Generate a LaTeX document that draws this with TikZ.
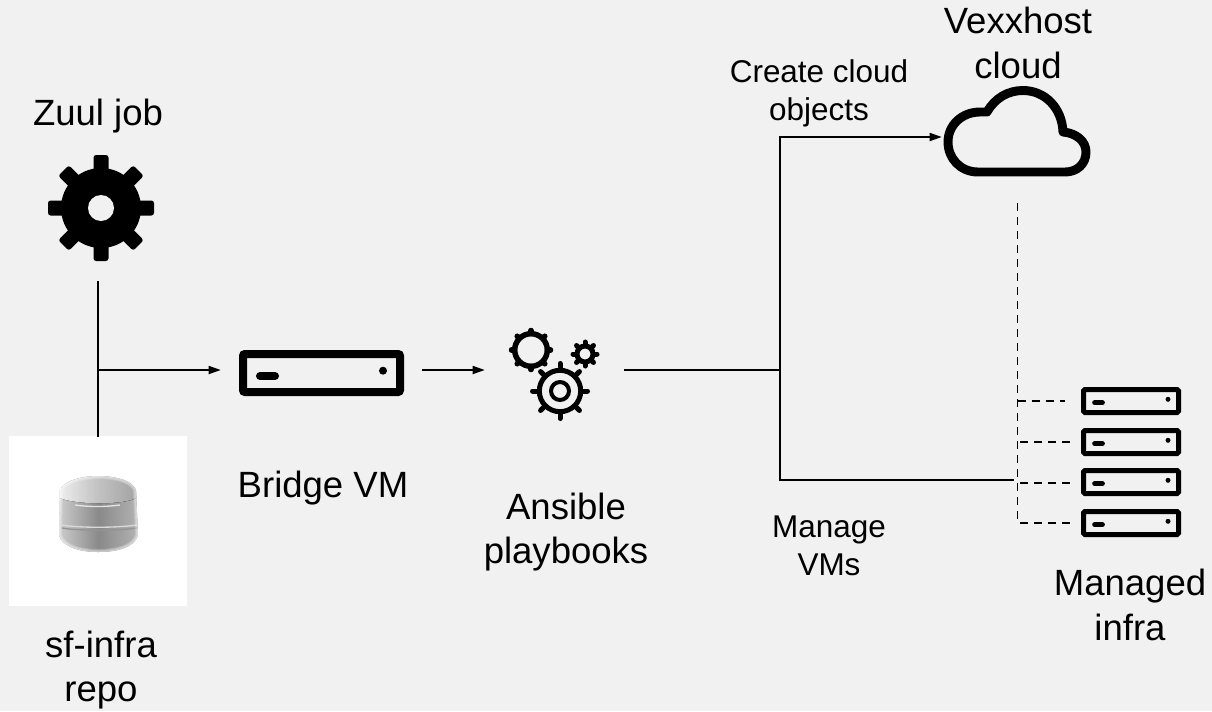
\documentclass[tikz,border=0pt]{standalone}
\usepackage{fontspec}
\setmainfont{Liberation Sans}
\usetikzlibrary{arrows.meta,calc}
\definecolor{bgcol}{HTML}{F1F1F1}
\tikzset{
  biglabel/.style={align=center,inner sep=0pt,font=\fontsize{27.4}{33.5}\selectfont,text=black},
  smalllabel/.style={align=center,inner sep=0pt,font=\fontsize{23.6}{28.5}\selectfont,text=black},
  conn/.style={line width=1.25pt,black},
  arrowconn/.style={conn,-{Triangle[length=9pt,width=6pt]}},
  dashconn/.style={line width=1.3pt,black,dash pattern=on 6pt off 4.5pt},
  anchorpt/.style={inner sep=0pt,minimum size=0pt},
}
\newcommand{\bigserver}[2]{%
  \begin{scope}[shift={(#1,#2)}]
    \draw[line width=6pt,rounded corners=1.5] (-78.5,-19) rectangle (78.5,19);
    \draw[line width=6pt,line cap=round] (-61.5,3) -- (-46.5,3);
    \fill (61.5,-2.3) circle (4);
  \end{scope}}
\newcommand{\smallserver}[2]{%
  \begin{scope}[shift={(#1,#2)}]
    \draw[line width=3.75pt,rounded corners=1] (-47.5,-11.5) rectangle (47.5,11.5);
    \draw[line width=3.5pt,line cap=round] (-36.5,1.7) -- (-28.5,1.7);
    \fill (37,-1.7) circle (2.5);
  \end{scope}}
% gear ring icon: x,y ; ring radius, stroke, tooth end radius, teeth angle step
\newcommand{\ringgear}[6]{%
  \begin{scope}[shift={(#1,#2)}]
    \foreach \a in {0,#6,...,359}{
      \draw[line width=#4*.75pt,line cap=round] (\a:#3) -- (\a:#5);}
    \draw[line width=#4*.75pt,fill=bgcol] (0,0) circle (#3);
  \end{scope}}
\begin{document}
\begin{tikzpicture}[x=.75pt,y=-.75pt]
\useasboundingbox (0,0) rectangle (1212,711);
\fill[bgcol] (0,0) rectangle (1212,711);

% database image
\fill[white] (9,436) rectangle (187,606);
\node[anchorpt] (repo) at (98,437) {};
\begin{scope}
  \fill[left color=black!20,right color=black!30,middle color=black!46]
    (60,490) -- (59,535) .. controls (62,547) and (80,552) .. (98,552) .. controls (118,552) and (135,547) .. (138,535) -- (136,490) -- cycle;
  \fill[left color=black!7,right color=black!36,middle color=black!24]
    (60,492) .. controls (60,482) and (80,476) .. (98,476) .. controls (118,476) and (136,482) .. (136,492) -- (136,498) .. controls (125,505) and (75,505) .. (60,498) -- cycle;
  \draw[black!10,line width=1pt] (75,505) .. controls (90,507) and (105,507) .. (120,505);
  \draw[black!15,line width=1pt] (62,525) .. controls (80,528) and (115,528) .. (137,525);
  \draw[black!42,line width=1pt] (62,528) .. controls (80,531) and (115,531) .. (137,528);
  \foreach \w in {1.5,3,4.5}{
    \draw[white,opacity=.22,line width=\w pt]
      (60,492) .. controls (60,482) and (80,476) .. (98,476) .. controls (118,476) and (136,482) .. (136,492) -- (138,535) .. controls (135,547) and (118,552) .. (98,552) .. controls (80,552) and (62,547) .. (59,535) -- cycle;}
\end{scope}

% big gear
\node[anchorpt] (zuul) at (98,281) {};
\begin{scope}[shift={(101,208)}]
  \foreach \a in {0,45,...,315}{
    \fill[black,rotate=\a,rounded corners=2] (30,-7.5) rectangle (53,7.5);}
  \fill[black] (0,0) circle (40);
  \fill[bgcol] (0,0) circle (13);
\end{scope}

% bridge VM
\bigserver{321.5}{373}
\node[anchorpt] (bridgein) at (221,370) {};
\coordinate (bridgeout) at (422,370);
\coordinate (junction) at (98,370);

% gears
\node[anchorpt] (gearsin) at (485,370) {};
\node[anchorpt] (gearsout) at (624,370) {};
\ringgear{531}{350}{16.3}{5.5}{19.5}{45}
\ringgear{585}{354}{8}{5}{12}{45}
\ringgear{560}{391}{20.7}{5}{27.5}{45}
\draw[line width=3pt] (560,391) circle (9);

% cloud
\node[anchorpt] (cloud) at (942,137) {};
\draw[line width=6.7pt,line join=round]
  (978,172) .. controls (960,172) and (948,158) .. (948,142)
  .. controls (948,125) and (962,112) .. (980,112) -- (987,112)
  .. controls (995,98) and (1008,90.5) .. (1023,90.5)
  .. controls (1045,90.5) and (1062,108) .. (1063,132)
  .. controls (1076,133) and (1086,141) .. (1086,152)
  .. controls (1086,164) and (1077,172) .. (1065,172) -- cycle;

% servers
\smallserver{1131}{401}
\smallserver{1131}{442}
\smallserver{1131}{482}
\smallserver{1131}{523}
\coordinate (cloudfoot) at (1017.5,203);
\coordinate (elbow) at (1017.5,523);
\node[anchorpt] (srv1) at (1065,401) {};
\node[anchorpt] (srv2) at (1071,442) {};
\node[anchorpt] (srv3) at (1071,483) {};
\node[anchorpt] (srv4) at (1071,523) {};
\coordinate (tap1) at (1017.5,401);
\coordinate (tap2) at (1020,442);
\coordinate (tap3) at (1020,483);
\coordinate (tap4) at (1020,523);

% connectors
\draw[conn] (zuul) -- (repo);
\draw[arrowconn] (junction) -- (bridgein);
\draw[arrowconn] (bridgeout) -- (gearsin);
\coordinate (split) at (780,370);
\coordinate (managein) at (1014,480);
\draw[conn] (gearsout) -- (split);
\draw[arrowconn] (split) |- (cloud);
\draw[conn] (split) |- (managein);
\draw[dashconn] (cloudfoot) -- (elbow);
\draw[dashconn] (tap4) -- (srv4);
\draw[dashconn] (tap1) -- (srv1);
\draw[dashconn] (tap2) -- (srv2);
\draw[dashconn] (tap3) -- (srv3);

% labels
\node[biglabel] (l1) at (98,116) {Zuul job};
\node[biglabel] (l2) at (1018,43) {Vexxhost\\cloud};
\node[smalllabel] (l3) at (819,93.5) {Create cloud\\objects};
\node[biglabel] (l4) at (323,488) {Bridge VM};
\node[biglabel] (l5) at (566,532) {Ansible\\playbooks};
\node[smalllabel] (l6) at (829,546) {Manage\\VMs};
\node[biglabel] (l7) at (1130,605) {Managed\\infra};
\node[biglabel] (l8) at (101,670) {sf-infra\\repo};
\end{tikzpicture}
\end{document}
